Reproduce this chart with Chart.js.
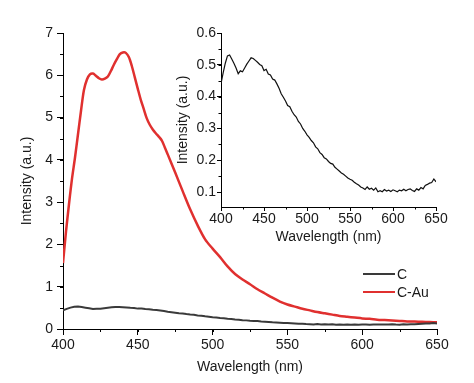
<!DOCTYPE html>
<html>
<head>
<meta charset="utf-8">
<script src="https://cdn.jsdelivr.net/npm/chart.js@4.4.0/dist/chart.umd.min.js"></script>
<style>
  body { margin: 0; background: #fff; }
  #wrap { position: relative; width: 474px; height: 383px; }
  #main { position: absolute; left: 0; top: 0; }
  #inset { position: absolute; left: 150px; top: 0; }
</style>
</head>
<body>
<div id="wrap">
  <canvas id="main" width="474" height="383"></canvas>
  <canvas id="inset" width="324" height="260"></canvas>
</div>
<script>
// C sample, 400..650 nm every 2.5 nm (same data shown in the inset)
const cStart = 400, cStep = 2.5;
const cValues = [
  0.441, 0.475, 0.505, 0.528, 0.531, 0.518, 0.505, 0.490, 0.472, 0.481,
  0.478, 0.490, 0.502, 0.512, 0.522, 0.520, 0.514, 0.508, 0.501, 0.497,
  0.482, 0.486, 0.471, 0.468, 0.455, 0.452, 0.440, 0.426, 0.409, 0.398,
  0.386, 0.372, 0.368, 0.354, 0.343, 0.336, 0.322, 0.314, 0.300, 0.291,
  0.280, 0.272, 0.262, 0.255, 0.242, 0.236, 0.224, 0.218, 0.208, 0.204,
  0.196, 0.190, 0.188, 0.178, 0.172, 0.166, 0.160, 0.156, 0.150, 0.144,
  0.140, 0.137, 0.131, 0.126, 0.122, 0.116, 0.113, 0.108, 0.116, 0.109,
  0.112, 0.106, 0.113, 0.101, 0.104, 0.101, 0.108, 0.103, 0.106, 0.102,
  0.107, 0.104, 0.101, 0.106, 0.104, 0.109, 0.104, 0.108, 0.110, 0.105,
  0.102, 0.110, 0.106, 0.114, 0.110, 0.121, 0.124, 0.128, 0.130, 0.141,
  0.132
];

// C-Au sample
const auWavelengths = [
  400, 402, 404, 406, 408, 410, 412, 414, 416, 418, 420, 422, 424, 426, 428,
  430, 432, 434, 436, 438, 440, 442, 444, 446, 448, 450, 452, 454, 456, 458,
  460, 462, 464, 466, 468, 470, 475, 480, 485, 490, 495, 500, 505, 510, 515,
  520, 525, 530, 535, 540, 545, 550, 555, 560, 565, 570, 575, 580, 585, 590,
  595, 600, 605, 610, 615, 620, 625, 630, 635, 640, 645, 650
];
const auValues = [
  1.56, 2.30, 2.95, 3.55, 4.05, 4.60, 5.15, 5.65, 5.90, 6.02, 6.04, 5.99, 5.93, 5.90, 5.92,
  5.97, 6.10, 6.25, 6.38, 6.50, 6.54, 6.53, 6.43, 6.22, 5.95, 5.68, 5.42, 5.20, 4.98, 4.83,
  4.72, 4.63, 4.55, 4.46, 4.30, 4.13, 3.70, 3.26, 2.83, 2.45, 2.12, 1.90, 1.70, 1.48, 1.30,
  1.17, 1.06, 0.94, 0.84, 0.74, 0.65, 0.58, 0.53, 0.48, 0.44, 0.40, 0.37, 0.34, 0.31, 0.29,
  0.27, 0.25, 0.24, 0.22, 0.21, 0.20, 0.19, 0.18, 0.175, 0.17, 0.165, 0.16
];

const mainYTicks = [0, 1, 2, 3, 4, 5, 6, 7];
const xTicks = [400, 450, 500, 550, 600, 650];
const insetYTicks = [0.1, 0.2, 0.3, 0.4, 0.5, 0.6];

const cPoints = cValues.map((v, i) => ({ x: cStart + i * cStep, y: v }));
const auPoints = auValues.map((v, i) => ({ x: auWavelengths[i], y: v }));

const FONT = "'Liberation Sans', Arial, sans-serif";
const TXT = '#1a1a1a';

// short ticks between the labelled ones
const minorTicks = {
  id: 'minorTicks',
  afterDraw(chart, args, opts) {
    const ctx = chart.ctx;
    ctx.save();
    ctx.strokeStyle = '#000';
    ctx.lineWidth = 1;
    for (const id of ['x', 'y']) {
      const s = chart.scales[id];
      const step = opts[id];
      let v = Math.ceil(s.min / step - 1e-9) * step;
      for (; v <= s.max + 1e-9; v += step) {
        ctx.beginPath();
        if (id === 'x') {
          const px = Math.round(s.getPixelForValue(v)) + 0.5;
          ctx.moveTo(px, s.top);
          ctx.lineTo(px, s.top + opts.len);
        } else {
          const py = Math.round(s.getPixelForValue(v)) + 0.5;
          ctx.moveTo(s.right, py);
          ctx.lineTo(s.right - opts.len, py);
        }
        ctx.stroke();
      }
    }
    ctx.restore();
  }
};

// legend placed in the lower right of the main plot
const cornerLegend = {
  id: 'cornerLegend',
  afterDraw(chart, args, opts) {
    const ctx = chart.ctx;
    ctx.save();
    ctx.font = '14px ' + FONT;
    ctx.textBaseline = 'middle';
    chart.data.datasets.forEach((ds, i) => {
      const y = opts.y + i * opts.gap;
      ctx.strokeStyle = ds.borderColor;
      ctx.lineWidth = 2;
      ctx.beginPath();
      ctx.moveTo(opts.x, y);
      ctx.lineTo(opts.x + opts.w, y);
      ctx.stroke();
      ctx.fillStyle = TXT;
      ctx.fillText(ds.label, opts.x + opts.w + 2, y + 1);
    });
    ctx.restore();
  }
};

function axisX(tickLen, titlePad, tickPad, height) {
  return {
    type: 'linear',
    min: 400, max: 650,
    afterBuildTicks: s => { s.ticks = xTicks.map(v => ({ value: v })); },
    afterFit: s => { s.height = height; },
    border: { display: true, color: '#000', width: 1 },
    grid: { drawOnChartArea: false, drawTicks: true, tickLength: tickLen, tickColor: '#000' },
    ticks: { color: TXT, font: { family: FONT, size: 14 }, padding: tickPad, maxRotation: 0 },
    title: { display: true, text: 'Wavelength (nm)', color: TXT, font: { family: FONT, size: 14 },
             padding: { top: 0, bottom: titlePad } }
  };
}

new Chart(document.getElementById('main'), {
  type: 'line',
  data: {
    datasets: [
      { label: 'C', data: cPoints, borderColor: '#3a3a3a', borderWidth: 2, pointRadius: 0, tension: 0 },
      { label: 'C-Au', data: auPoints, borderColor: '#e0302f', borderWidth: 2.5, pointRadius: 0,
        tension: 0.3 }
    ]
  },
  options: {
    responsive: false,
    animation: false,
    devicePixelRatio: 1,
    layout: { padding: { top: 33, right: 37, left: 0, bottom: 0 } },
    plugins: {
      legend: { display: false },
      tooltip: { enabled: false },
      minorTicks: { x: 25, y: 0.5, len: 3 },
      cornerLegend: { x: 363, y: 274, gap: 18, w: 32 }
    },
    scales: {
      x: axisX(6, 7.6, 2, 54),
      y: {
        type: 'linear',
        min: 0, max: 7,
        afterBuildTicks: s => { s.ticks = mainYTicks.map(v => ({ value: v })); },
        afterFit: s => { s.width = 63; },
        border: { display: true, color: '#000', width: 1 },
        grid: { drawOnChartArea: false, drawTicks: true, tickLength: 6, tickColor: '#000' },
        ticks: { color: TXT, font: { family: FONT, size: 14 }, padding: 4 },
        title: { display: true, text: 'Intensity (a.u.)', color: TXT, font: { family: FONT, size: 14 },
                 padding: { top: 18.6, bottom: 0 } }
      }
    }
  },
  plugins: [minorTicks, cornerLegend]
});

new Chart(document.getElementById('inset'), {
  type: 'line',
  data: {
    datasets: [
      { label: 'C', data: cPoints, borderColor: '#111', borderWidth: 1.2, pointRadius: 0, tension: 0 }
    ]
  },
  options: {
    responsive: false,
    animation: false,
    devicePixelRatio: 1,
    layout: { padding: { top: 33, right: 38, left: 0, bottom: 0 } },
    plugins: {
      legend: { display: false },
      tooltip: { enabled: false },
      minorTicks: { x: 25, y: 0.05, len: 2.5 }
    },
    scales: {
      x: axisX(4, 14.6, 0, 53),
      y: {
        type: 'linear',
        min: 0.053, max: 0.6,
        afterBuildTicks: s => { s.ticks = insetYTicks.map(v => ({ value: v })); },
        afterFit: s => { s.width = 71; },
        border: { display: true, color: '#000', width: 1 },
        grid: { drawOnChartArea: false, drawTicks: true, tickLength: 4, tickColor: '#000' },
        ticks: { color: TXT, font: { family: FONT, size: 14 }, padding: 1,
                 callback: v => v.toFixed(1) },
        title: { display: true, text: 'Intensity (a.u.)', color: TXT, font: { family: FONT, size: 14 },
                 padding: { top: 24.6, bottom: 0 } }
      }
    }
  },
  plugins: [minorTicks]
});
</script>
</body>
</html>
